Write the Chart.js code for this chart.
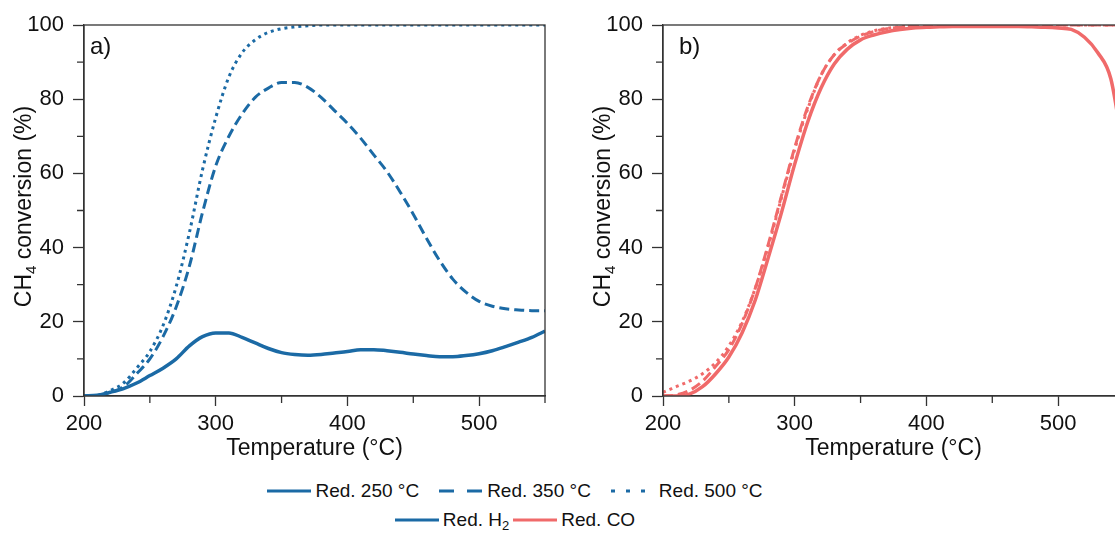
<!DOCTYPE html>
<html>
<head>
<meta charset="utf-8">
<script src="https://cdn.jsdelivr.net/npm/chart.js@4.4.0/dist/chart.umd.min.js"></script>
<style>
  body { margin: 0; background: #fff; }
  #wrap { position: relative; width: 1115px; height: 537px; overflow: hidden; background: #fff;
          font-family: "Liberation Sans", Arial, sans-serif; color: #111; }
  .panel { position: absolute; top: 0; }
  #panelA { left: 0; }
  #panelB { left: 579px; }
  .row { position: absolute; left: 0; width: 1030px; height: 26px; display: flex;
         justify-content: center; align-items: center; font-size: 19px; line-height: 26px; white-space: nowrap; }
  #row1 { top: 478px; }
  #row2 { top: 507px; }
  .item { display: flex; align-items: center; }
  .item svg { margin-right: 4px; }
  #row1 .item { margin: 0 10px; }
  #row2 .item { margin: 0 2px; }
  sub { font-size: 13px; line-height: 0; vertical-align: -4px; }
</style>
</head>
<body>
<div id="wrap">
  <div class="panel" id="panelA"><canvas id="chartA" width="560" height="470"></canvas></div>
  <div class="panel" id="panelB"><canvas id="chartB" width="560" height="470"></canvas></div>
  <div class="row" id="row1"></div>
  <div class="row" id="row2"></div>
</div>
<script>
// temperature grid (°C)
const temps = [200, 210, 220, 230, 240, 250, 260, 270, 280, 290, 300, 310, 320, 330, 340, 350, 360, 370,
               380, 390, 400, 410, 420, 430, 440, 450, 460, 470, 480, 490, 500, 510, 520, 530, 540, 550];

// a) H2 reduced catalyst, CH4 conversion (%)
const h2Red250 = [0, 0.2, 1, 2, 3.5, 5.5, 7.5, 10, 13.5, 16, 17, 17, 15.8, 14.3, 12.8, 11.7, 11.2, 11,
                  11.2, 11.6, 12, 12.5, 12.5, 12.2, 11.8, 11.3, 10.9, 10.6, 10.6, 10.9, 11.4, 12.2, 13.3, 14.5, 15.8, 17.5];
const h2Red350 = [0, 0.1, 1, 2.5, 6, 10, 16, 24, 35, 49.5, 62, 70, 76, 80.5, 83, 84.5, 84.5, 83.2,
                  80.5, 77, 73.5, 69.5, 65, 60.5, 55, 49, 42.5, 36.5, 31.5, 28, 25.5, 24.2, 23.5, 23.2, 23, 23];
const h2Red500 = [0, 0.2, 1.5, 3.5, 7.5, 12, 19, 29.5, 44, 61, 75, 86, 92.5, 96, 98, 99, 99.5, 99.8,
                  100, 100, 100, 100, 100, 100, 100, 100, 100, 100, 100, 100, 100, 100, 100, 100, 100, 100];

// b) CO reduced catalyst, CH4 conversion (%)
const coRed250 = [0, 0, 0.5, 2.5, 6, 10.5, 17, 25.8, 37.4, 49.5, 62.5, 74, 83, 89.5, 93.5, 96, 97.3, 98.2,
                  98.8, 99.2, 99.4, 99.5, 99.6, 99.6, 99.6, 99.6, 99.6, 99.6, 99.5, 99.4, 99.2, 98.8, 96.7, 92.6, 85.5, 65];
const coRed350 = [0, 0.3, 1.5, 4, 8, 12.5, 19.5, 29, 41, 54, 67, 78, 86.5, 92, 95, 97, 98.2, 99,
                  99.4, 99.7, 99.9, 100, 100, 100, 100, 100, 100, 100, 100, 100, 100, 100, 100, 100, 100, 100];
const coRed500 = [1, 2.5, 4, 6, 9, 13.5, 20, 29, 40.5, 53.5, 66.5, 77.5, 86.5, 92, 95.2, 97.2, 98.4, 99.1,
                  99.5, 99.8, 100, 100, 100, 100, 100, 100, 100, 100, 100, 100, 100, 100, 100, 100, 100, 100];

const styleNames = ["Red. 250 °C", "Red. 350 °C", "Red. 500 °C"];
const gasNames = ["Red. H<sub>2</sub>", "Red. CO"];

const blue = "#1b6aa5";
const red = "#f06a6a";
const axisColor = "#333333";
const dashes = [[], [10, 5], [3, 4]];
const widths = [3.5, 3, 3];
const legendDashes = ["", "15,13", "4,11"];

Chart.defaults.font.family = "'Liberation Sans', Arial, sans-serif";
Chart.defaults.color = "#111111";

// box, minor ticks, panel tag and the y title with a real subscript
const framePlugin = {
  id: "frame",
  afterDraw(chart, args, opts) {
    const { ctx, chartArea: a, scales } = chart;
    ctx.save();
    ctx.strokeStyle = axisColor;
    ctx.lineWidth = 1.3;
    ctx.strokeRect(a.left, a.top, a.right - a.left, a.bottom - a.top);

    ctx.beginPath();
    scales.x.ticks.forEach((t) => {
      if (t.value % 100 !== 0) {
        const px = scales.x.getPixelForValue(t.value);
        ctx.moveTo(px, a.bottom);
        ctx.lineTo(px, a.bottom + 7);
      }
    });
    scales.y.ticks.forEach((t) => {
      if (t.value % 20 !== 0) {
        const py = scales.y.getPixelForValue(t.value);
        ctx.moveTo(a.left, py);
        ctx.lineTo(a.left - 7, py);
      }
    });
    ctx.stroke();

    ctx.fillStyle = "#111111";
    ctx.font = "24px 'Liberation Sans', Arial, sans-serif";
    ctx.textBaseline = "middle";
    ctx.textAlign = "left";
    ctx.fillText(opts.tag, a.left + opts.tagDx, a.top + 22);

    // y axis title: CH4 conversion (%)
    const big = "23px 'Liberation Sans', Arial, sans-serif";
    const small = "15px 'Liberation Sans', Arial, sans-serif";
    ctx.font = big;
    const w1 = ctx.measureText("CH").width;
    const w3 = ctx.measureText(" conversion (%)").width;
    ctx.font = small;
    const w2 = ctx.measureText("4").width;
    const total = w1 + w2 + w3;
    ctx.translate(a.left - 61, (a.top + a.bottom) / 2 - 4);
    ctx.rotate(-Math.PI / 2);
    ctx.textBaseline = "alphabetic";
    const base = 8;
    const x0 = -total / 2;
    ctx.font = big;
    ctx.fillText("CH", x0, base);
    ctx.font = small;
    ctx.fillText("4", x0 + w1, base + 5);
    ctx.font = big;
    ctx.fillText(" conversion (%)", x0 + w1 + w2, base);
    ctx.restore();
  },
};

function makePanel(canvasId, tag, tagDx, series, color) {
  new Chart(document.getElementById(canvasId), {
    type: "line",
    data: {
      datasets: series.map((vals, i) => ({
        label: styleNames[i],
        data: temps.map((t, j) => ({ x: t, y: vals[j] })),
        borderColor: color,
        borderWidth: widths[i],
        borderDash: dashes[i],
        pointRadius: 0,
        cubicInterpolationMode: "monotone",
        fill: false,
      })),
    },
    options: {
      responsive: false,
      animation: false,
      layout: { padding: { left: 0, top: 25, right: 15, bottom: 0 } },
      plugins: {
        legend: { display: false },
        tooltip: { enabled: false },
        frame: { tag: tag, tagDx: tagDx },
      },
      scales: {
        x: {
          type: "linear",
          min: 200,
          max: 550,
          afterFit: (s) => { s.height = 74; },
          ticks: {
            stepSize: 50,
            autoSkip: false,
            maxRotation: 0,
            padding: 5,
            font: { size: 22 },
            callback: (v) => (v % 100 === 0 ? v : ""),
          },
          grid: {
            drawOnChartArea: false,
            tickLength: 10,
            tickWidth: 1.3,
            tickColor: (c) => (c.tick && c.tick.value % 100 === 0 ? axisColor : "rgba(0,0,0,0)"),
          },
          border: { color: axisColor, width: 1.3 },
          title: {
            display: true,
            text: "Temperature (°C)",
            font: { size: 23 },
            padding: { top: 0, bottom: 8 },
          },
        },
        y: {
          min: 0,
          max: 100,
          afterFit: (s) => { s.width = 84; },
          ticks: {
            stepSize: 10,
            autoSkip: false,
            padding: 9,
            font: { size: 22 },
            callback: (v) => (v % 20 === 0 ? v : ""),
          },
          grid: {
            drawOnChartArea: false,
            tickLength: 11,
            tickWidth: 1.3,
            tickColor: (c) => (c.tick && c.tick.value % 20 === 0 ? axisColor : "rgba(0,0,0,0)"),
          },
          border: { color: axisColor, width: 1.3 },
        },
      },
    },
    plugins: [framePlugin],
  });
}

makePanel("chartA", "a)", 6, [h2Red250, h2Red350, h2Red500], blue);
makePanel("chartB", "b)", 16, [coRed250, coRed350, coRed500], red);

// legend: line styles (row 1) and reducing gas colours (row 2)
const sample = (color, dash) =>
  `<svg width="44" height="10"><line x1="0" y1="5" x2="44" y2="5" stroke="${color}" stroke-width="3"` +
  (dash ? ` stroke-dasharray="${dash}"` : "") + `/></svg>`;

document.getElementById("row1").innerHTML = styleNames
  .map((n, i) => `<span class="item">${sample(blue, legendDashes[i])}<span>${n}</span></span>`)
  .join("");
document.getElementById("row2").innerHTML = gasNames
  .map((n, i) => `<span class="item">${sample([blue, red][i], "")}<span>${n}</span></span>`)
  .join("");
</script>
</body>
</html>
